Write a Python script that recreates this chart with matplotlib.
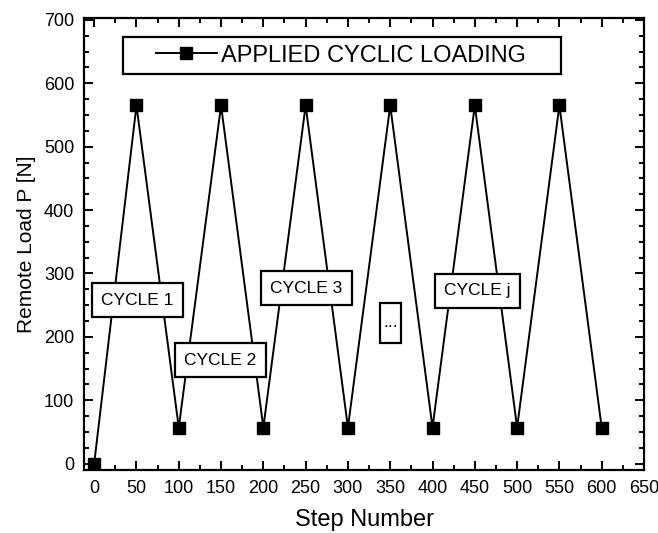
import matplotlib
matplotlib.use('Agg')
import matplotlib.pyplot as plt
from matplotlib.patches import Rectangle
from matplotlib.lines import Line2D
from matplotlib.ticker import MultipleLocator

plt.rcParams['font.family'] = ['Liberation Sans', 'DejaVu Sans']

# data
steps = [0, 50, 100, 150, 200, 250, 300, 350, 400, 450, 500, 550, 600]
load = [0, 565, 57, 565, 57, 565, 57, 565, 57, 565, 57, 565, 57]

cycle_labels = ['CYCLE 1', 'CYCLE 2', 'CYCLE 3', 'CYCLE j']
cycle_x = [51, 149, 251, 453]
cycle_y = [258, 163, 277, 273]
dots_x, dots_y = 350, 222

fig = plt.figure(figsize=(6.58, 5.33), dpi=100)
ax = fig.add_axes([0.1277, 0.1182, 0.851, 0.848])

ax.plot(steps, load, color='black', lw=1.4, marker='s', markersize=8.5,
        zorder=2)

for lab, x, y in zip(cycle_labels, cycle_x, cycle_y):
    ax.text(x, y, lab, ha='center', va='center', fontsize=12.5, zorder=3,
            bbox=dict(boxstyle='square,pad=0.55', facecolor='white',
                      edgecolor='black', linewidth=1.6))

# narrow "..." box
ax.add_patch(Rectangle((dots_x - 12.4, dots_y - 31), 24.8, 62,
                       facecolor='white', edgecolor='black', lw=1.6, zorder=3))
ax.text(dots_x, dots_y, '...', ha='center', va='center', fontsize=12.5, zorder=4)

ax.set_xlim(-12, 650)
ax.set_ylim(-10, 703)
ax.xaxis.set_major_locator(MultipleLocator(50))
ax.xaxis.set_minor_locator(MultipleLocator(25))
ax.yaxis.set_major_locator(MultipleLocator(100))
ax.yaxis.set_minor_locator(MultipleLocator(25))
ax.tick_params(which='both', direction='in', top=True, right=True,
               width=1.4, labelsize=13)
ax.tick_params(which='major', length=6.5, pad=7)
ax.tick_params(which='minor', length=3.6)
for sp in ax.spines.values():
    sp.set_linewidth(1.6)

ax.set_xlabel('Step Number', fontsize=17, labelpad=9)
ax.set_ylabel('Remote Load P [N]', fontsize=15, labelpad=6)

# legend box drawn by hand to get the wide padding
ax.add_patch(Rectangle((0.0696, 0.876), 0.7825, 0.082, transform=ax.transAxes,
                       facecolor='white', edgecolor='black', lw=1.6, zorder=5))
handle = Line2D([], [], color='black', lw=1.4, marker='s', markersize=8.5)
leg = ax.legend([handle], ['APPLIED CYCLIC LOADING'], loc='center left',
                bbox_to_anchor=(0.1286, 0.917), fontsize=17, frameon=False,
                handlelength=2.57, borderpad=0, borderaxespad=0,
                handletextpad=0.2)
leg.set_zorder(6)

fig.savefig('out.png', dpi=100)
